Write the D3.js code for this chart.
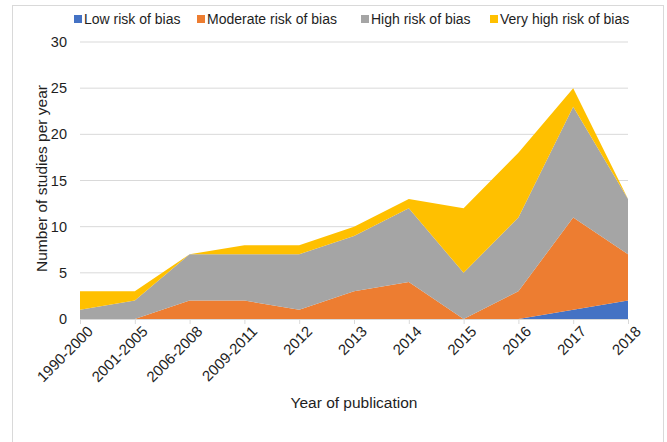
<!DOCTYPE html>
<html>
<head>
<meta charset="utf-8">
<script src="https://cdn.jsdelivr.net/npm/d3@7"></script>
<style>
  body { margin: 0; background: #fff; }
  text { font-family: "Liberation Sans", Arial, sans-serif; }
</style>
</head>
<body>
<div id="chart"></div>
<script>
/* DATA */
const years = ["1990-2000", "2001-2005", "2006-2008", "2009-2011", "2012", "2013", "2014", "2015", "2016", "2017", "2018"];
const lowRisk      = [0, 0, 0, 0, 0, 0, 0, 0, 0, 1, 2];
const moderateRisk = [0, 0, 2, 2, 1, 3, 4, 0, 3, 10, 5];
const highRisk     = [1, 2, 5, 5, 6, 6, 8, 5, 8, 12, 6];
const veryHighRisk = [2, 1, 0, 1, 1, 1, 1, 7, 7, 2, 0];
const seriesNames = ["Low risk of bias", "Moderate risk of bias", "High risk of bias", "Very high risk of bias"];
const yTicks = [0, 5, 10, 15, 20, 25, 30];

/* CONSTANTS */
const width = 667, height = 442,
  margin = { top: 42, bottom: 123, left: 80, right: 39 };
const colors = ["#4472c4", "#ed7d31", "#a5a5a5", "#ffc000"];
const textColor = "#1e1e1e";

const rows = years.map((y, i) => ({
  year: y,
  [seriesNames[0]]: lowRisk[i],
  [seriesNames[1]]: moderateRisk[i],
  [seriesNames[2]]: highRisk[i],
  [seriesNames[3]]: veryHighRisk[i]
}));

const stacked = d3.stack().keys(seriesNames)(rows);

// scales
const xScale = d3.scalePoint()
  .domain(years)
  .range([margin.left, width - margin.right]);

const yScale = d3.scaleLinear()
  .domain([0, 30])
  .range([height - margin.bottom, margin.top]);

const svg = d3.select("#chart")
  .append("svg")
  .attr("width", width)
  .attr("height", height);

// outer frame
svg.append("rect")
  .attr("x", 12.5).attr("y", 5.5)
  .attr("width", 651).attr("height", 450)
  .attr("fill", "#fff")
  .attr("stroke", "#d9d9d9");

// gridlines
svg.append("g")
  .selectAll("line")
  .data(yTicks.slice(1))
  .join("line")
  .attr("x1", margin.left).attr("x2", width - margin.right)
  .attr("y1", d => yScale(d)).attr("y2", d => yScale(d))
  .attr("stroke", "#d9d9d9");

// areas
const area = d3.area()
  .x(d => xScale(d.data.year))
  .y0(d => yScale(d[0]))
  .y1(d => yScale(d[1]));

svg.append("g")
  .selectAll("path")
  .data(stacked)
  .join("path")
  .attr("fill", (d, i) => colors[i])
  .attr("d", area);

// y axis
const yAxis = d3.axisLeft(yScale).tickValues(yTicks).tickSize(0).tickPadding(13);
const yAxisGroup = svg.append("g")
  .attr("transform", `translate(${margin.left}, 0)`)
  .call(yAxis);
yAxisGroup.select(".domain").remove();
yAxisGroup.selectAll("text").attr("font-size", 14.5).attr("fill", textColor)
  .attr("font-family", "Liberation Sans, Arial, sans-serif");

// x axis
const xAxis = d3.axisBottom(xScale).tickSizeOuter(0).tickSizeInner(5);
const xAxisGroup = svg.append("g")
  .attr("transform", `translate(0, ${height - margin.bottom})`)
  .call(xAxis);
xAxisGroup.select(".domain").attr("stroke", "#d9d9d9");
xAxisGroup.selectAll(".tick line").attr("stroke", "#d9d9d9");
xAxisGroup.selectAll("text")
  .attr("font-size", 15).attr("fill", textColor)
  .attr("font-family", "Liberation Sans, Arial, sans-serif")
  .attr("text-anchor", "end")
  .attr("dy", "0.35em")
  .attr("transform", "translate(4, 4) rotate(-45)");

// axis titles
svg.append("text")
  .attr("x", (margin.left + width - margin.right) / 2)
  .attr("y", 408)
  .attr("text-anchor", "middle")
  .attr("font-size", 15.5)
  .attr("fill", textColor)
  .text("Year of publication");

svg.append("text")
  .attr("transform", `translate(47, ${yScale(15) - 2}) rotate(-90)`)
  .attr("text-anchor", "middle")
  .attr("font-size", 15.5)
  .attr("fill", textColor)
  .text("Number of studies per year");

// legend
const legendX = [74, 197, 361, 490];
const legend = svg.append("g")
  .selectAll("g")
  .data(seriesNames)
  .join("g")
  .attr("transform", (d, i) => `translate(${legendX[i]}, 14)`);
legend.append("rect")
  .attr("width", 8).attr("height", 8).attr("y", 1)
  .attr("fill", (d, i) => colors[i]);
legend.append("text")
  .attr("x", 10).attr("y", 10)
  .attr("font-size", 14)
  .attr("fill", textColor)
  .text(d => d);
</script>
</body>
</html>
